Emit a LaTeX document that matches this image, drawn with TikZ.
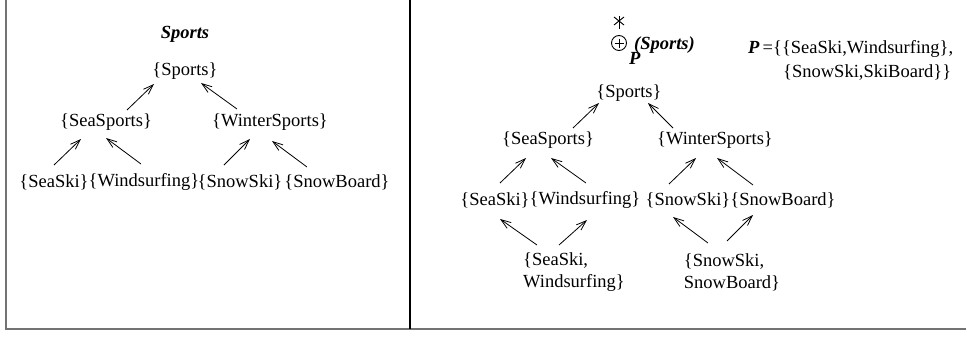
\documentclass[tikz,border=0pt]{standalone}
\usepackage{fontspec}
\setmainfont{Liberation Serif}
\usetikzlibrary{arrows.meta}
\begin{document}
\begin{tikzpicture}[x=1pt,y=-1pt,
  lbl/.style={inner sep=0pt, font=\fontsize{18.5}{22}\selectfont},
  ttl/.style={inner sep=0pt, font=\fontsize{18.5}{22}\selectfont\bfseries\itshape},
  edge/.style={line width=0.8pt, -{Straight Barb[length=10pt,width=7pt]}},
  frameline/.style={line width=1.7pt, draw=black!55},
  divider/.style={line width=1.7pt, draw=black},
  symline/.style={line width=0.9pt},
]
\useasboundingbox (0,0) rectangle (967,338);

% panel frame
\draw[frameline] (5.7,0) -- (5.7,328.7) -- (966,328.7);
\draw[divider] (409.7,0) -- (409.7,328.7);

% ---------- left panel: the hierarchy Sports ----------
\node[ttl] (ltitle) at (185,34) {Sports};
\node[lbl] (ls)  at (185,71)  {\{Sports\}};
\node[lbl] (lss) at (106,122) {\{SeaSports\}};
\node[lbl] (lws) at (270,122) {\{WinterSports\}};
\node[lbl] (lsk) at (54,182)  {\{SeaSki\}};
\node[lbl] (lwi) at (144,182) {\{Windsurfing\}};
\node[lbl] (lsn) at (240,182) {\{SnowSki\}};
\node[lbl] (lsb) at (337,182) {\{SnowBoard\}};

\draw[edge] ([shift={(21,-12)}]lss.center)  -- ([shift={(-31,13)}]ls.center);
\draw[edge] ([shift={(-33,-13)}]lws.center) -- ([shift={(16,12)}]ls.center);
\draw[edge] ([shift={(0,-17)}]lsk.center)   -- ([shift={(-25,17)}]lss.center);
\draw[edge] ([shift={(-3,-18)}]lwi.center)  -- ([shift={(0,16)}]lss.center);
\draw[edge] ([shift={(-16,-17)}]lsn.center) -- ([shift={(-20,17)}]lws.center);
\draw[edge] ([shift={(-30,-15)}]lsb.center) -- ([shift={(2,19)}]lws.center);

% ---------- right panel: the extended hierarchy ----------
% closure operator symbol
\coordinate (star) at (619,22);
\draw[symline] ([shift={(0,-6)}]star) -- ([shift={(0,7)}]star);
\draw[symline] ([shift={(-5,-5)}]star) -- ([shift={(5,3)}]star);
\draw[symline] ([shift={(5,-5)}]star) -- ([shift={(-5,3)}]star);
\node[circle, draw, symline, minimum size=15pt, inner sep=0pt] (osum) at (619,43) {};
\draw[symline] ([shift={(-4.5,0)}]osum.center) -- ([shift={(4.5,0)}]osum.center);
\draw[symline] ([shift={(0,-4.5)}]osum.center) -- ([shift={(0,4.5)}]osum.center);
\node[ttl, anchor=base west] (psub) at (629,64) {P};
\node[ttl, anchor=base west] (psup) at (634,49) {(Sports)};

% partition definition
\node[lbl, anchor=base west] (pdefa) at (748,53) {\textbf{\textit{P}}\,=\{\{SeaSki,Windsurfing\},};
\node[lbl, anchor=base west] (pdefb) at (783,77) {\{SnowSki,SkiBoard\}\}};

\node[lbl] (rs)  at (629,93)  {\{Sports\}};
\node[lbl] (rss) at (548,140) {\{SeaSports\}};
\node[lbl] (rws) at (715,140) {\{WinterSports\}};
\node[lbl] (rsk) at (495,200) {\{SeaSki\}};
\node[lbl] (rwi) at (585,200) {\{Windsurfing\}};
\node[lbl] (rsn) at (688,200) {\{SnowSki\}};
\node[lbl] (rsb) at (783,200) {\{SnowBoard\}};
\node[lbl, align=left] (rpa) at (574,272) {\{SeaSki,\\Windsurfing\}};
\node[lbl, align=left] (rpb) at (732,272) {\{SnowSki,\\SnowBoard\}};

\draw[edge] ([shift={(25,-12)}]rss.center)  -- ([shift={(-30,10)}]rs.center);
\draw[edge] ([shift={(-42,-12)}]rws.center) -- ([shift={(19,10)}]rs.center);
\draw[edge] ([shift={(5,-17)}]rsk.center)   -- ([shift={(-22,18)}]rss.center);
\draw[edge] ([shift={(1,-17)}]rwi.center)   -- ([shift={(3,18)}]rss.center);
\draw[edge] ([shift={(-19,-16)}]rsn.center) -- ([shift={(-19,18)}]rws.center);
\draw[edge] ([shift={(-30,-15)}]rsb.center) -- ([shift={(2,18)}]rws.center);
\draw[edge] ([shift={(-37,-27)}]rpa.center) -- ([shift={(5,19)}]rsk.center);
\draw[edge] ([shift={(-15,-27)}]rpa.center) -- ([shift={(2,20)}]rwi.center);
\draw[edge] ([shift={(-24,-29)}]rpb.center) -- ([shift={(-15,17)}]rsn.center);
\draw[edge] ([shift={(-5,-31)}]rpb.center)  -- ([shift={(-30,15)}]rsb.center);
\end{tikzpicture}
\end{document}
